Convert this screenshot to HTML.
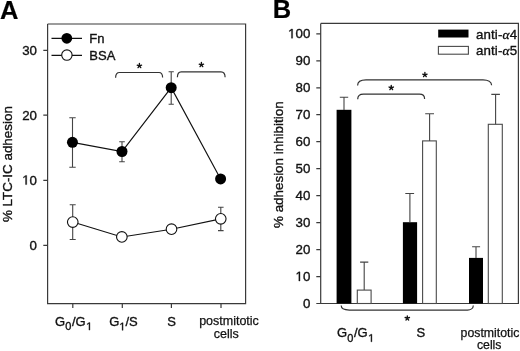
<!DOCTYPE html>
<html><head><meta charset="utf-8">
<style>
html,body{margin:0;padding:0;background:#fff;width:520px;height:351px;overflow:hidden}
svg{display:block;will-change:transform}
text{font-family:"Liberation Sans",sans-serif;fill:#111;stroke:#111;stroke-width:0.35px}
.t{font-size:13px}
.n{font-size:13.3px}
.ax{stroke:#3a3a3a;stroke-width:1.2;fill:none}
.eb{stroke:#444;stroke-width:1.1;fill:none}
.br{stroke:#333;stroke-width:1.2;fill:none}
.dl{stroke:#111;stroke-width:1.15;fill:none}
.as{stroke:#111;stroke-width:1.35;stroke-linecap:round;fill:none}
.h{fill:none;stroke:none}
.oc{fill:#fff;stroke:#111;stroke-width:1.1}
</style></head>
<body>
<svg width="520" height="351" viewBox="0 0 520 351">
<defs>
<path id="one" d="M515 0V-1237L197 -1010V-1180L530 -1409H696V0Z"/>
<path id="ast" d="M0 0V-2.3M0 0L2.19 -0.71M0 0L1.35 1.86M0 0L-1.35 1.86M0 0L-2.19 -0.71"/>
</defs>
<rect width="520" height="351" fill="#fff"/>
<!-- ===== Panel A ===== -->
<text x="0.1" y="18.7" style="font-size:25.5px;font-weight:bold;fill:#000;stroke-width:0.2px">A</text>
<path class="ax" d="M47.6 24V303.6H245.6V24H47.6"/>
<!-- y ticks -->
<path class="ax" d="M43.3 50.4H47.6M43.3 115.2H47.6M43.3 180.3H47.6M43.3 245.4H47.6"/>
<g class="n" text-anchor="end">
<text x="37" y="54.7">30</text>
<text x="37" y="119.5">20</text>
<text x="37" y="184.6"><tspan class="h">1</tspan>0</text>
<text x="37" y="249.7">0</text>
</g>
<!-- x ticks -->
<path class="ax" d="M72.8 303.6V308M122.3 303.6V308M171.4 303.6V308M221 303.6V308"/>
<!-- y label -->
<text transform="translate(12.2,164.1) rotate(-90)" text-anchor="middle" style="font-size:13.4px">% LTC-IC adhesion</text>
<!-- x labels -->
<g class="t">
<text x="55" y="325.5">G<tspan font-size="11" dy="4.6">0</tspan><tspan dy="-4.6" dx="0.7">/G</tspan><tspan font-size="11" dy="4.6" dx="0.5" class="h">1</tspan></text>
<text x="109.2" y="325.7">G<tspan font-size="11" dy="4.6" class="h">1</tspan><tspan dy="-4.6">/S</tspan></text>
<text x="171.7" y="325.8" text-anchor="middle">S</text>
<text x="229" y="325.4" text-anchor="middle" style="font-size:12.5px;stroke-width:0.25px">postmitotic</text>
<text x="226.2" y="338.2" text-anchor="middle" style="font-size:12.5px;stroke-width:0.25px">cells</text>
</g>
<!-- legend -->
<path class="dl" d="M51.5 38.3H82M51.5 55.3H82" style="stroke-width:1.25"/>
<circle cx="66.8" cy="38.3" r="5.4" fill="#000"/>
<circle class="oc" cx="66.9" cy="55.1" r="5.2"/>
<g class="t"><text x="89.3" y="42.8">Fn</text><text x="89.3" y="59.6">BSA</text></g>
<!-- brackets A -->
<path class="br" d="M115.6 77.8C115.6 74.5 116.8 72.5 119.5 72.5H159C161.5 72.5 162.6 74.5 162.6 77.6"/>
<path class="br" d="M177.4 77.3C177.4 74 178.6 71.8 181.2 71.8H221C223.8 71.8 225.1 74 225.1 77.3"/>
<use href="#ast" class="as" x="139.4" y="65.8"/>
<use href="#ast" class="as" x="201.4" y="64.8"/>
<!-- error bars Fn -->
<path class="eb" d="M72.5 117.8V167.3M69.3 117.8H75.7M69.3 167.3H75.7"/>
<path class="eb" d="M122 141.7V161.7M119.2 141.7H124.8M119.2 161.7H124.8"/>
<path class="eb" d="M171.2 71.7V104.3M168.6 71.7H173.8M168.6 104.3H173.8"/>
<!-- error bars BSA -->
<path class="eb" d="M72.7 204.8V239.5M69.7 204.8H75.7M69.7 239.5H75.7"/>
<path class="eb" d="M220.8 207.3V230.6M218 207.3H223.6M218 230.6H223.6"/>
<!-- Fn line -->
<polyline class="dl" points="72.45,142.35 122,151.5 171.2,87.65 220.6,178.9"/>
<circle cx="72.45" cy="142.35" r="5.5" fill="#000"/>
<circle cx="122" cy="151.5" r="5.5" fill="#000"/>
<circle cx="171.2" cy="87.65" r="5.5" fill="#000"/>
<circle cx="220.6" cy="178.9" r="5.5" fill="#000"/>
<!-- BSA line -->
<polyline class="dl" points="72.75,222.05 121.85,236.95 171.5,229.2 220.75,218.85"/>
<circle class="oc" cx="72.75" cy="222.05" r="5.3"/>
<circle class="oc" cx="121.85" cy="236.95" r="5.3"/>
<circle class="oc" cx="171.5" cy="229.2" r="5.3"/>
<circle class="oc" cx="220.75" cy="218.85" r="5.3"/>

<!-- ===== Panel B ===== -->
<text x="272.7" y="18" style="font-size:25.5px;font-weight:bold;fill:#000;stroke-width:0.2px">B</text>
<path class="ax" d="M320.7 23.4V303.5H518.4V23.4H320.7"/>
<path class="ax" d="M316.3 33.8H320.7M316.3 60.8H320.7M316.3 87.8H320.7M316.3 114.7H320.7M316.3 141.7H320.7M316.3 168.7H320.7M316.3 195.7H320.7M316.3 222.7H320.7M316.3 249.6H320.7M316.3 276.6H320.7M316.3 303.5H320.7"/>
<g class="n" text-anchor="end">
<text x="310.3" y="38.2"><tspan class="h">1</tspan>00</text>
<text x="310.3" y="65.2">90</text>
<text x="310.3" y="92.2">80</text>
<text x="310.3" y="119.1">70</text>
<text x="310.3" y="146.1">60</text>
<text x="310.3" y="173.1">50</text>
<text x="310.3" y="200.1">40</text>
<text x="310.3" y="227.1">30</text>
<text x="310.3" y="254">20</text>
<text x="310.3" y="281"><tspan class="h">1</tspan>0</text>
<text x="310.3" y="307.9">0</text>
</g>
<text transform="translate(283.2,164.7) rotate(-90)" text-anchor="middle" style="font-size:13.4px">% adhesion inhibition</text>
<!-- bars -->
<rect x="336.6" y="109.8" width="14.8" height="193.7" fill="#000"/>
<rect class="ob" x="357.3" y="290.1" width="13.8" height="13.4" fill="#fff" stroke="#4a4a4a" stroke-width="1.1"/>
<rect x="402.9" y="222.2" width="14.2" height="81.3" fill="#000"/>
<rect x="422.6" y="140.9" width="13.7" height="162.6" fill="#fff" stroke="#4a4a4a" stroke-width="1.1"/>
<rect x="469" y="257.9" width="14" height="45.6" fill="#000"/>
<rect x="488.3" y="124.3" width="14" height="179.2" fill="#fff" stroke="#4a4a4a" stroke-width="1.1"/>
<!-- error bars B -->
<path class="eb" d="M344 97.3V110M339.8 97.3H348.2"/>
<path class="eb" d="M364.2 262.1V290.1M360.1 262.1H368.3"/>
<path class="eb" d="M409.9 193.5V222.5M405.3 193.5H414.1"/>
<path class="eb" d="M429.6 113.8V141M425.2 113.8H434"/>
<path class="eb" d="M476 246.8V258M472.1 246.8H480.1"/>
<path class="eb" d="M495.6 94.4V124.3M491.3 94.4H499.9"/>
<!-- legend B -->
<rect x="438.2" y="29.6" width="30.3" height="7.9" fill="#000"/>
<rect x="438.4" y="46.4" width="30" height="7.8" fill="#fff" stroke="#4a4a4a" stroke-width="1.1"/>
<g style="font-size:13.3px;letter-spacing:0.15px"><text x="475.9" y="38.7">anti-<tspan style="font-family:'Liberation Serif';font-style:italic">α</tspan>4</text><text x="475.9" y="54.9">anti-<tspan style="font-family:'Liberation Serif';font-style:italic">α</tspan>5</text></g>
<!-- brackets B -->
<path class="br" d="M357.6 85.5C357.6 82 361 79.9 366 79.9H483C488 79.9 491.6 82 491.6 85.3"/>
<path class="br" d="M357.7 99.2C357.7 96 359.8 94.2 363.5 94.2H419.5C422.8 94.2 424.6 96 424.6 98.9"/>
<path class="br" d="M341.2 305.6C341.2 308.3 344.5 310.05 349.3 310.05H467.5C470.5 310.05 473.3 308.3 473.3 305.4"/>
<use href="#ast" class="as" x="424.9" y="74.8"/>
<use href="#ast" class="as" x="391.25" y="87.75"/>
<use href="#ast" class="as" x="407.3" y="318.2"/>
<!-- x labels B -->
<g class="t">
<text x="337" y="337.2">G<tspan font-size="11" dy="4.6">0</tspan><tspan dy="-4.6" dx="0.7">/G</tspan><tspan font-size="11" dy="4.6" dx="0.5" class="h">1</tspan></text>
<text x="420.8" y="337.3" text-anchor="middle">S</text>
<text x="490" y="336.8" text-anchor="middle" style="font-size:12.3px;stroke-width:0.25px">postmitotic</text>
<text x="489.2" y="348.9" text-anchor="middle" style="font-size:12.3px;stroke-width:0.25px">cells</text>
</g>

<!-- footless ones -->
<g fill="#111" stroke="#111">
<use href="#one" transform="translate(22.19,184.60) scale(0.006494)" stroke-width="53.9"/>
<use href="#one" transform="translate(86.18,330.10) scale(0.005371)" stroke-width="65.2"/>
<use href="#one" transform="translate(119.33,330.30) scale(0.005371)" stroke-width="65.2"/>
<use href="#one" transform="translate(288.10,38.20) scale(0.006494)" stroke-width="53.9"/>
<use href="#one" transform="translate(295.49,281.00) scale(0.006494)" stroke-width="53.9"/>
<use href="#one" transform="translate(368.18,341.80) scale(0.005371)" stroke-width="65.2"/>
</g>
</svg>
</body></html>
